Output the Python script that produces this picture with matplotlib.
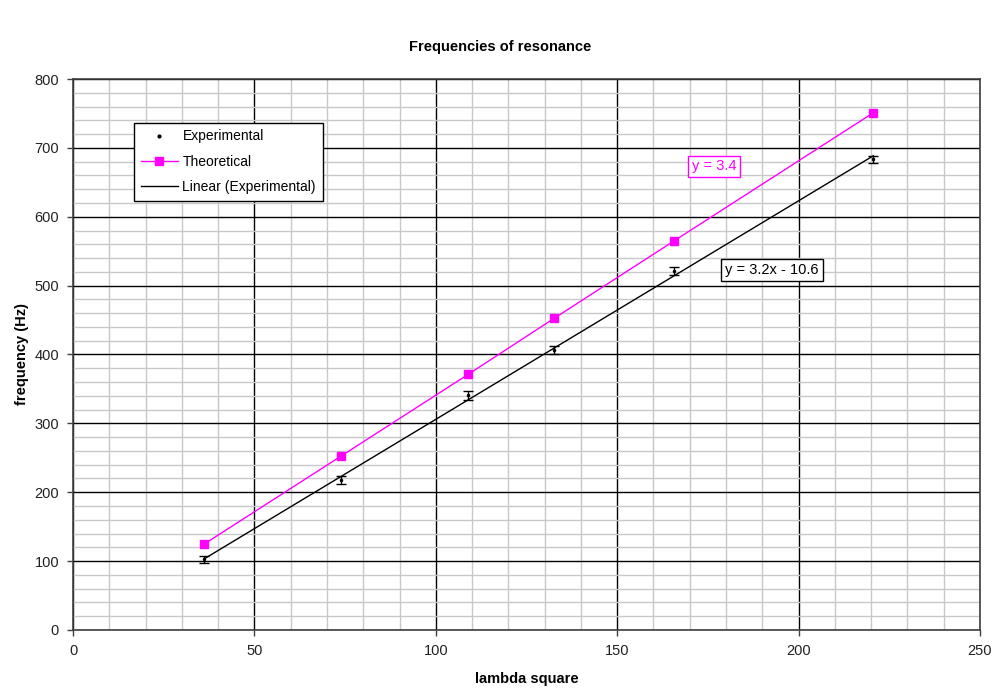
import numpy as np
import matplotlib.pyplot as plt
from matplotlib.lines import Line2D
from matplotlib.ticker import MultipleLocator

plt.rcParams['font.family'] = ['Liberation Sans', 'DejaVu Sans']

# lambda^2 values and measured / predicted resonance frequencies
lambda_sq = [36.2, 73.9, 108.9, 132.6, 165.7, 220.6]
freq_exp = [102.6, 217.7, 340.6, 407.0, 521.0, 683.5]
freq_err = [5, 6, 6, 6, 6, 5]
freq_theo = [124.8, 252.5, 371.0, 452.4, 565.0, 751.0]

fit_label = "y = 3.2x - 10.6"
theo_label = "y = 3.4"
MAGENTA = '#ff00ff'

fig = plt.figure(figsize=(10, 6.93), dpi=100)
ax = fig.add_axes([0.073, 0.091, 0.907, 0.795])

# linear fit through the experimental points
slope, intercept = np.polyfit(lambda_sq, freq_exp, 1)
xs = np.array([lambda_sq[0], lambda_sq[-1]])

ax.errorbar(lambda_sq, freq_exp, yerr=freq_err, fmt='o', ms=1.5,
            color='black', ecolor='black', elinewidth=1, capsize=3.5,
            capthick=1, zorder=4)
ax.plot(lambda_sq, freq_theo, color=MAGENTA, lw=1, marker='s', ms=5.5,
        zorder=3)
ax.plot(xs, slope * xs + intercept, color='black', lw=1, zorder=3)

ax.set_xlim(0, 250)
ax.set_ylim(0, 800)
ax.xaxis.set_major_locator(MultipleLocator(50))
ax.xaxis.set_minor_locator(MultipleLocator(10))
ax.yaxis.set_major_locator(MultipleLocator(100))
ax.yaxis.set_minor_locator(MultipleLocator(20))
ax.grid(which='minor', color='#c8c8c8', lw=1)
ax.grid(which='major', color='black', lw=1)
ax.set_axisbelow(True)
ax.tick_params(which='minor', length=0)
ax.tick_params(which='major', length=4, width=1, color='#404040',
               labelcolor='#222222', labelsize=10.5, pad=6)
for s in ax.spines.values():
    s.set_color('#404040')
    s.set_linewidth(1.2)

ax.set_xlabel('lambda square', fontsize=10.5, fontweight='bold', labelpad=10)
ax.set_ylabel('frequency (Hz)', fontsize=10.5, fontweight='bold', labelpad=4)
fig.suptitle('Frequencies of resonance', fontsize=10.5, fontweight='bold',
             y=0.943)

ax.text(176.7, 673, theo_label, color=MAGENTA, fontsize=10.5,
        ha='center', va='center',
        bbox=dict(boxstyle='square,pad=0.25', fc='white', ec=MAGENTA, lw=1))
ax.text(192.7, 522.5, fit_label, color='black', fontsize=10.5,
        ha='center', va='center',
        bbox=dict(boxstyle='square,pad=0.3', fc='white', ec='black', lw=1))

handles = [
    Line2D([], [], ls='none', marker='o', ms=2, color='black'),
    Line2D([], [], color=MAGENTA, lw=1, marker='s', ms=5.5),
    Line2D([], [], color='black', lw=1),
]
labels = ['Experimental', 'Theoretical', 'Linear (Experimental)']
leg = ax.legend(handles, labels, loc='upper left',
                bbox_to_anchor=(0.067, 0.921), fontsize=10, frameon=True,
                fancybox=False, borderpad=0.5, handlelength=2.7,
                handletextpad=0.3, labelspacing=0.8, borderaxespad=0)
leg.get_frame().set_edgecolor('black')
leg.get_frame().set_linewidth(1)
leg.get_frame().set_alpha(1)

fig.savefig('out.png', dpi=100)
